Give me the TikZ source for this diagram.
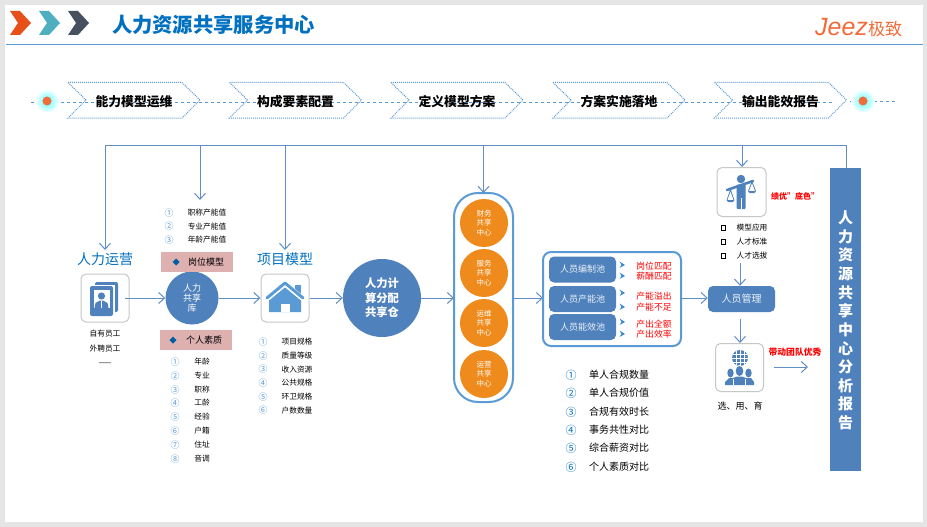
\documentclass[tikz,border=0pt]{standalone}
\usepackage{fontspec}
\setmainfont{Noto Sans CJK SC}
\usetikzlibrary{arrows.meta}
\definecolor{jzblue}{HTML}{4F81BD}
\definecolor{jzsky}{HTML}{5B9BD5}
\definecolor{jztitle}{HTML}{0070C0}
\definecolor{jzorange}{HTML}{EF8B1C}
\definecolor{jzpink}{HTML}{DFB0B0}
\definecolor{jzlogo}{HTML}{F26B3A}
\newcommand{\fs}[1]{\fontsize{#1}{#1}\selectfont}
\tikzset{
  link/.style={draw=jzblue!90, line width=1pt, -{Straight Barb[length=6pt,width=11pt]}},
  txt/.style={inner sep=0pt, font=\fs{7.7}},
  num/.style={inner sep=0pt, text=jzsky, font=\fs{9}},
  head/.style={inner sep=0pt, text=jztitle, font=\fs{14}},
  iconbox/.style={draw=black!22, line width=1pt, rounded corners=5pt, fill=white, minimum size=48pt, inner sep=0pt},
  ball/.style={circle, fill=jzblue, text=white, inner sep=0pt, align=center},
  hub/.style={circle, fill=jzorange, text=white, inner sep=0pt, minimum size=48pt, align=center, font=\fontsize{7.5}{9.6}\selectfont},
  pool/.style={rounded corners=5pt, fill=jzblue, text=white!90!jzblue, minimum width=67pt, minimum height=26pt, inner sep=0pt, font=\fs{9}},
  pinkbar/.style={fill=jzpink, minimum width=72pt, minimum height=20pt, inner sep=0pt},
  redtxt/.style={inner sep=0pt, text=red, font=\fs{8.8}},
}
\begin{document}
\begin{tikzpicture}[x=1pt, y=-1pt]
  \useasboundingbox (0,0) rectangle (927,527);
  \fill[black!10] (0,0) rectangle (927,527);
  \fill[white] (5,5) rectangle (923,522);
  % header
  \foreach \x/\c in {10/E8501A, 39/4FAEC0, 68/47505F} {
    \definecolor{chev}{HTML}{\c}
    \fill[chev] (\x,11) -- ++(10,0) -- ++(11,12) -- ++(-11,12) -- ++(-10,0) -- ++(8,-12) -- cycle;
  }
  \node[inner sep=0pt, text=jztitle, font=\bfseries\fs{20.3}] (title) at (213.5,25) {人力资源共享服务中心};
  \draw[color=jzsky, line width=0.9pt] (6,44) -- (923,44);
  \node[inner sep=0pt, text=jzlogo, font=\itshape\fs{25}] (logoA) at (841.5,27) {\fontspec{Liberation Sans}[Scale=1]Jeez};
  \node[inner sep=0pt, text=jzlogo, font=\fs{17}] (logoB) at (885,29) {极致};
  % process row
  \coordinate (dashA) at (31,102);
  \coordinate (dashB) at (835,102);
  \coordinate (dashC) at (850,101);
  \coordinate (dashD) at (898,101);
  \draw[jzsky, dashed, line width=0.7pt] (dashA) -- (dashB);
  \draw[jzsky, dashed, line width=0.7pt] (dashC) -- (dashD);
  \foreach \x in {47,863} {
    \shade[inner color=cyan!65, outer color=white] (\x,101) circle [radius=12];
    \fill[jzlogo] (\x,101) circle [radius=4.5];
  }
  \foreach \x/\t [count=\i] in {68/能力模型运维, 229.5/构成要素配置, 391/定义模型方案, 553/方案实施落地, 714.5/输出能效报告} {
    \draw[jzsky, densely dotted, line width=1pt] (\x,82.5) -- ++(114,0) -- ++(18,17.5) -- ++(-18,18) -- ++(-114,0) -- ++(18,-18) -- cycle;
    \node[inner sep=0pt, font=\bfseries\fs{12.8}] (step\i) at (\x+66,102) {\t};
  }
  % main row nodes
  \node[iconbox] (staffbox) at (105,298) {};
  \node[head] (staffhead) at (105,259) {人力运营};
  \node[ball, minimum size=53pt, font=\fontsize{9}{10}\selectfont] (pool) at (192,298) {人力\\共享\\库};
  \node[iconbox] (housebox) at (285,298) {};
  \node[head] (househead) at (285,259) {项目模型};
  \node[ball, minimum size=78pt, font=\bfseries\fontsize{11.3}{14.3}\selectfont] (store) at (382,298) {人力计\\算分配\\共享仓};
  \draw[jzsky, line width=2pt, fill=white, rounded corners=24pt] (454,193) rectangle (513,402);
  \coordinate (capT) at (483.5,193);
  \coordinate (capL) at (454,298);
  \coordinate (capR) at (513,298);
  \foreach \y/\t [count=\i] in {223/财务, 273/服务, 323/运维, 374/运营}
    \node[hub] (hub\i) at (484,\y) {\t\\共享\\中心};
  \draw[jzsky, line width=2pt, fill=white, rounded corners=8pt] (543,252) rectangle (681,346);
  \coordinate (outL) at (543,298);
  \coordinate (outR) at (681,298);
  \node[pool] (poolA) at (582.5,269.5) {人员编制池};
  \node[pool] (poolB) at (582.5,299) {人员产能池};
  \node[pool] (poolC) at (582.5,327) {人员能效池};
  \node[pool, font=\fs{10}] (mgr) at (741.5,299) {人员管理};
  \node[iconbox, minimum size=49pt] (scalebox) at (741.5,192) {};
  \node[iconbox] (teambox) at (739.5,367.5) {};
  \node[fill=jzblue, minimum width=31pt, minimum height=303pt, inner sep=0pt] (bar) at (845.5,319.5) {};
  \foreach \t [count=\i from 0] in {人,力,资,源,共,享,中,心,分,析,报,告}
    \node[inner sep=0pt, text=white, font=\bfseries\fs{15}] (bar\i) at (845.5,218+18.6*\i) {\t};
  % bus and arrows
  \coordinate (busL) at (105,145);
  \coordinate (busA) at (200,145);
  \coordinate (busB) at (285,145);
  \coordinate (busC) at (483.5,145);
  \coordinate (busD) at (742,145);
  \coordinate (busR) at (846,145);
  \coordinate (endA) at (200,200);
  \coordinate (endL) at (105,250);
  \coordinate (endB) at (285,250);
  \draw[jzblue!90, line width=1pt] (bar.north -| busR) -- (busR) -- (busL);
  \draw[link] (busL) -- (endL);
  \draw[link] (busA) -- (endA);
  \draw[link] (busB) -- (endB);
  \draw[link] (busC) -- (capT);
  \draw[link] (busD) -- (scalebox.north -| busD);
  \coordinate (staffout) at (125,298);
  \draw[link] (staffout) -- (pool);
  \draw[link] (pool) -- (housebox);
  \draw[link] (housebox) -- (store);
  \draw[link] (store) -- (capL);
  \draw[link] (capR) -- (outL);
  \draw[link] (outR) -- (outR -| mgr.west);
  \coordinate (rankout) at (740,263);
  \draw[link] (rankout) -- (mgr.north -| rankout);
  \coordinate (mgrout) at (740,319);
  \draw[link] (mgrout) -- (teambox.north -| mgrout);
  \coordinate (teamA) at (774,367);
  \coordinate (teamB) at (808,367);
  \draw[link] (teamA) -- (teamB);
  % staff column
  \foreach \y/\t [count=\i] in {334/自有员工, 349/外聘员工, 364/——}
    \node[txt] (staff\i) at (105,\y) {\t};
  \foreach \y/\n/\t [count=\i] in {213/①/职称产能值, 226.5/②/专业产能值, 240/③/年龄产能值} {
    \node[num] (vn\i) at (169,\y) {\n};
    \node[txt] (vt\i) at (207,\y) {\t};
  }
  \node[pinkbar] (post) at (197,262) {};
  \node[inner sep=0pt, font=\fs{9}] (postT) at (206,262) {岗位模型};
  \fill[jztitle!85!black] (176,258.5) -- (179.5,262) -- (176,265.5) -- (172.5,262) -- cycle;
  \node[pinkbar] (quality) at (196,340) {};
  \node[inner sep=0pt, font=\fs{9}] (qualityT) at (204,340) {个人素质};
  \fill[jztitle!85!black] (173,336.5) -- (176.5,340) -- (173,343.5) -- (169.5,340) -- cycle;
  \foreach \y/\n/\t [count=\i] in {362/①/年龄, 376/②/专业, 390/③/职称, 403/④/工龄, 417/⑤/经验, 431/⑥/户籍, 445/⑦/住址, 459/⑧/音调} {
    \node[num] (qn\i) at (175,\y) {\n};
    \node[txt] (qt\i) at (202,\y) {\t};
  }
  \foreach \y/\n/\t [count=\i] in {342/①/项目规格, 356/②/质量等级, 369.5/③/收入资源, 383/④/公共规格, 397/⑤/环卫规格, 410.5/⑥/户数数量} {
    \node[num] (pn\i) at (263,\y) {\n};
    \node[txt] (pt\i) at (297,\y) {\t};
  }
  % pool labels
  \foreach \y in {265,276,293,307,322,334}
    \fill[jzsky!60!jztitle] (619.5,\y-3.5) -- (625,\y) -- (619.5,\y+3) -- (621.5,\y) -- cycle;
  \foreach \y/\t [count=\i] in {266/岗位匹配, 276/薪酬匹配, 296/产能溢出, 307/产能不足, 324/产出全额, 334/产出效率}
    \node[redtxt] (red\i) at (654,\y) {\t};
  \foreach \y/\n/\t [count=\i] in {375/①/单人合规数量, 393/②/单人合规价值, 412/③/合规有效时长, 430/④/事务共性对比, 448/⑤/综合薪资对比, 467/⑥/个人素质对比} {
    \node[num, text=jztitle, font=\fs{11}] (cn\i) at (571,\y) {\n};
    \node[inner sep=0pt, font=\fs{10}] (ct\i) at (619,\y) {\t};
  }
  % right column
  \node[inner sep=0pt, text=red, font=\bfseries\fs{8}] (base) at (795,196) {绩优”底色”};
  \foreach \y/\t [count=\i] in {228/模型应用, 242/人才标准, 256/人才选拔} {
    \node[draw=black, line width=1pt, minimum size=4.5pt, inner sep=0pt] (sq\i) at (723.5,\y) {};
    \node[txt] (sqt\i) at (752,\y) {\t};
  }
  \node[inner sep=0pt, text=red, font=\bfseries\fs{8.8}] (lead) at (795,352) {带动团队优秀};
  \node[inner sep=0pt, font=\fs{9}] (pick) at (740,406) {选、用、育};
  % staff icon
  \fill[jzblue, rounded corners=2pt] (95,282) rectangle (118,312);
  \fill[white] (92,285) rectangle (115,317);
  \fill[jzblue, rounded corners=2pt] (90,286) rectangle (113,316);
  \fill[white] (93.5,290) rectangle (109.5,308);
  \fill[jzblue] (101.5,296) circle [radius=3.6];
  \fill[jzblue] (94.5,308) -- (95.5,303) -- (100,300.5) -- (103,300.5) -- (107.5,303) -- (108.5,308) -- cycle;
  \draw[white, line width=0.6pt] (101.5,301) -- (101.5,308);
  % house icon
  \fill[jzsky] (295,285) rectangle (301,294);
  \fill[jzsky] (285,287) -- (301,300) -- (301,312) -- (269,312) -- (269,300) -- cycle;
  \fill[white] (280.5,304) rectangle (289.5,312);
  \draw[white, line width=5pt, line join=round] (268,298) -- (285,284) -- (302,298);
  \draw[jzsky, line width=3pt, line cap=round, line join=round] (267,298) -- (285,283) -- (303,298);
  % scale icon
  \fill[jzblue] (741,179) circle [radius=4.2];
  \fill[jzblue, rounded corners=1pt] (736.5,184.5) rectangle (745.5,209);
  \draw[white, line width=0.7pt] (741,198) -- (741,209);
  \draw[jzblue, line width=2.6pt, line cap=round] (727,190) -- (753,181);
  \draw[jzblue, line width=0.8pt] (727,200) -- (730.5,190) -- (734,200);
  \fill[jzblue] (726.5,200) -- (734.5,200) -- (733,202) -- (728,202) -- cycle;
  \draw[jzblue, line width=0.8pt] (748.5,191) -- (752,182) -- (755.5,191);
  \fill[jzblue] (748,191) -- (756,191) -- (754.5,193) -- (749.5,193) -- cycle;
  % team icon
  \fill[jzblue] (740,358) circle [radius=8];
  \draw[white, line width=0.5pt] (732,358) -- (748,358) (733,354) -- (747,354) (733,362) -- (747,362) (740,350) -- (740,366) (736,351) -- (736,365) (744,351) -- (744,365);
  \fill[jzblue] (730.5,373) ellipse [x radius=3.2, y radius=4.5];
  \fill[jzblue] (748.5,373) ellipse [x radius=3.2, y radius=4.5];
  \fill[white] (739.5,371) ellipse [x radius=4.8, y radius=6];
  \fill[jzblue] (739.5,371) ellipse [x radius=3.8, y radius=5];
  \fill[jzblue] (725,385) -- (725,382) -- (729,378) -- (733,378) -- (737,376.5) -- (742,376.5) -- (746,378) -- (751,378) -- (754,382) -- (754,385) -- cycle;
  \draw[white, line width=0.5pt] (733.5,379) -- (733.5,385) (745.5,379) -- (745.5,385);
\end{tikzpicture}
\end{document}
